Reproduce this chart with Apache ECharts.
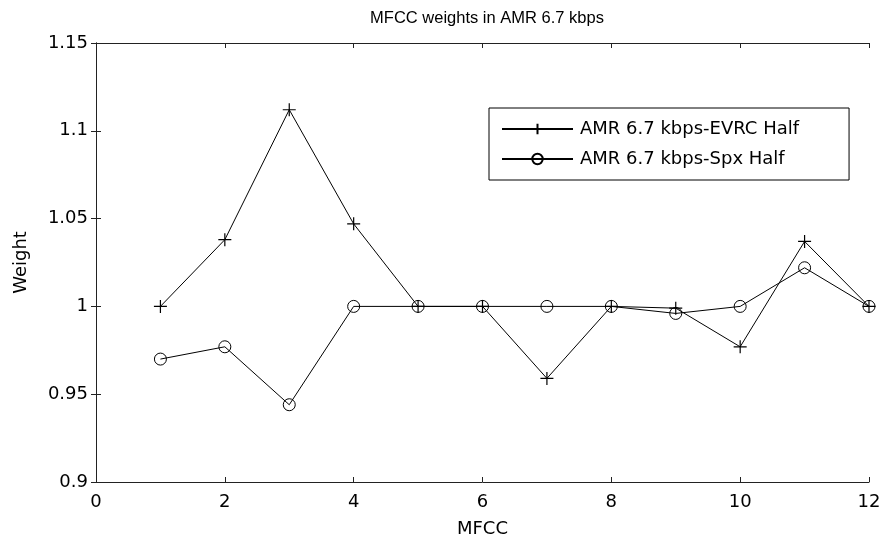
<!DOCTYPE html>
<html>
<head>
<meta charset="utf-8">
<script src="https://cdn.jsdelivr.net/npm/echarts@6/dist/echarts.min.js"></script>
<style>
html,body{margin:0;padding:0;background:#fff;}
#c{width:885px;height:544px;}
</style>
</head>
<body>
<div id="c"></div>
<script>
const mfcc = [1,2,3,4,5,6,7,8,9,10,11,12];
const evrcHalf = [1.0, 1.038, 1.112, 1.047, 1.0, 1.0, 0.959, 1.0, 0.999, 0.977, 1.037, 1.0];
const spxHalf = [0.970, 0.977, 0.944, 1.0, 1.0, 1.0, 1.0, 1.0, 0.996, 1.0, 1.022, 1.0];
const seriesNames = ['AMR 6.7 kbps-EVRC Half', 'AMR 6.7 kbps-Spx Half'];
const xTicks = [0, 2, 4, 6, 8, 10, 12];
const yTicks = [0.9, 0.95, 1, 1.05, 1.1, 1.15];

const FONT = 'DejaVu Sans';
const TFONT = 'Liberation Sans';
const plusPath = 'path://M0,5 L10,5 M5,0 L5,10';

const chart = echarts.init(document.getElementById('c'), null, {renderer: 'canvas'});
const axisCommon = {
  axisLine: {show: true, lineStyle: {color: '#222', width: 1}},
  axisTick: {show: true, inside: true, length: 5, lineStyle: {color: '#222', width: 1}},
  splitLine: {show: false}
};
chart.setOption({
  backgroundColor: '#fff',
  animation: false,
  title: {
    text: 'MFCC weights in AMR 6.7 kbps',
    left: 482, top: 5, textAlign: 'center',
    textStyle: {fontFamily: TFONT, fontSize: 16.5, fontWeight: 'normal', color: '#000'}
  },
  grid: {left: 96, right: 16, top: 43, bottom: 62},
  legend: {
    orient: 'vertical',
    left: 489, top: 108,
    padding: [12, 50, 12, 12],
    itemGap: 12,
    itemWidth: 71, itemHeight: 13,
    borderColor: '#000', borderWidth: 1,
    backgroundColor: '#fff',
    textStyle: {fontFamily: FONT, fontSize: 18, color: '#000', padding: [0, 0, 0, 2]},
    data: seriesNames
  },
  xAxis: [
    Object.assign({
      type: 'value', min: xTicks[0], max: xTicks[xTicks.length - 1], interval: 2,
      name: 'MFCC', nameLocation: 'middle', nameGap: 38,
      nameTextStyle: {fontFamily: FONT, fontSize: 18, color: '#000'},
      axisLabel: {fontFamily: FONT, fontSize: 18, color: '#000', margin: 11,
        formatter: v => xTicks.includes(v) ? String(v) : ''}
    }, axisCommon),
    Object.assign({
      type: 'value', position: 'top', min: 0, max: 12, interval: 2,
      axisLabel: {show: false}
    }, axisCommon)
  ],
  yAxis: [
    Object.assign({
      type: 'value', min: yTicks[0], max: yTicks[yTicks.length - 1], interval: 0.05,
      name: 'Weight', nameLocation: 'middle', nameGap: 66, nameRotate: 90,
      nameTextStyle: {fontFamily: FONT, fontSize: 18, color: '#000'},
      axisLabel: {fontFamily: FONT, fontSize: 18, color: '#000', margin: 8,
        formatter: v => String(parseFloat(v.toFixed(2)))}
    }, axisCommon),
    Object.assign({
      type: 'value', position: 'right', min: 0.9, max: 1.15, interval: 0.05,
      axisLabel: {show: false}
    }, axisCommon)
  ],
  series: [
    {
      name: seriesNames[0], type: 'line',
      data: mfcc.map((x, i) => [x, evrcHalf[i]]),
      symbol: plusPath, symbolSize: 13, showAllSymbol: true,
      lineStyle: {color: '#000', width: 1},
      itemStyle: {color: 'rgba(0,0,0,0)', borderColor: '#000', borderWidth: 1.2},
      emphasis: {disabled: true}, z: 3
    },
    {
      name: seriesNames[1], type: 'line',
      data: mfcc.map((x, i) => [x, spxHalf[i]]),
      symbol: 'circle', symbolSize: 12, showAllSymbol: true,
      lineStyle: {color: '#000', width: 1},
      itemStyle: {color: 'rgba(0,0,0,0)', borderColor: '#000', borderWidth: 1},
      emphasis: {disabled: true}, z: 2
    }
  ]
});
</script>
</body>
</html>
